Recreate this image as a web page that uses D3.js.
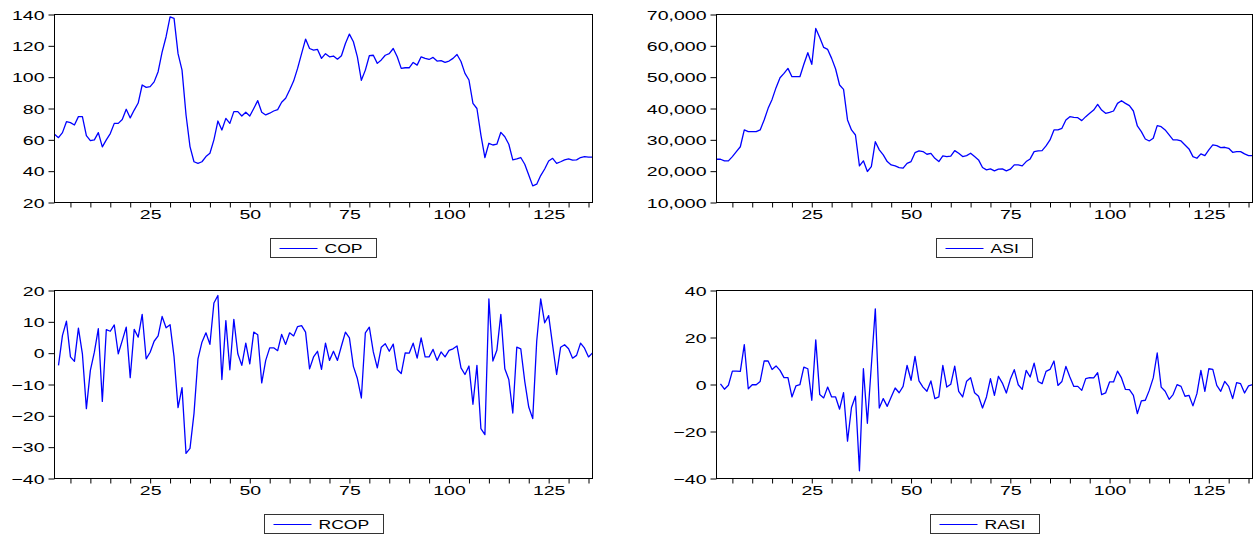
<!DOCTYPE html>
<html>
<head>
<meta charset="utf-8">
<script src="https://cdn.jsdelivr.net/npm/d3@7"></script>
<style>
body { margin: 0; background: #fff; }
svg text { font-family: "Liberation Sans", Arial, sans-serif; font-size: 13px; fill: #000; }
</style>
</head>
<body>
<svg id="chart" width="1258" height="536"></svg>
<script>
// observations 1..136
var obs = d3.range(1, 137);

var cop = [63.5,61.4,64.6,71.6,71,69.5,74.8,74.8,62.7,59.5,
  60,64.6,55.5,60,64,70.5,70.5,73,79.5,74,
  79,83.5,95,93.5,94,97,103.5,116,125.8,138.5,
  137.5,115,104.5,76,55.7,46,45,46,49.3,51.4,
  60,72,66.3,73.7,70.5,78,78,75.2,77.6,75.2,
  80,85,77.6,75.9,77,78.4,79.3,84,86.5,91.8,
  97.5,105.6,115,124.3,118.3,117.3,117.7,112,115,113,
  113.5,111.5,113.7,121.5,127.5,122.6,113,98,104.5,113.7,
  114,108.8,111,114,115,118.3,113,105.6,106,106,
  109.4,107.7,113,112,111.3,112.6,110.3,110.5,109.4,110.3,
  112,114.5,110,102.4,98.2,83.3,80,63,48.7,57.8,
  56.7,57.2,64.8,62,57.2,47.2,47.8,48.7,44.4,37.6,
  30.6,31.7,37.2,41.4,46.5,48.2,45,46,47.2,47.8,
  47,47.2,48.7,49.3,48.9,48.9];

var asi = [23800,23800,23300,23300,24650,26250,27800,33150,32600,32600,
  32600,33150,36350,40050,42900,46650,49800,51200,52800,50150,
  50150,50150,54100,57800,54100,65550,62650,59500,58850,56000,
  52600,47500,46100,36350,33150,31550,21700,23300,19900,21450,
  29400,26800,25200,23050,22000,21700,21150,20950,22500,23050,
  25900,26450,26250,25400,25700,24100,23050,24850,24650,24800,
  26560,25710,24650,24970,25710,24650,23590,21150,20400,20720,
  20090,20620,20720,20090,20620,22000,22000,21680,23060,23910,
  26250,26460,26560,28050,29960,33150,33150,33680,36340,37400,
  37190,37080,36130,37400,38460,39520,41330,39520,38460,38780,
  39200,41640,42490,41640,40900,39200,34420,32620,30280,29640,
  30490,34530,34200,33150,31560,29960,29960,29640,28370,27100,
  24650,24120,25500,24970,26780,28370,28160,27520,27630,27310,
  26030,26250,26250,25500,24970,24970];

var rcop = [null,-3.9,5.7,10.2,-1.2,-2.6,8,-0.2,-17.7,-5.5,
  0.3,7.8,-15.4,7.5,7,9,-0.2,4,8.3,-7.8,
  7.6,5.1,12.4,-1.8,0.3,3.8,5.5,11.7,8.1,9.1,
  -1.2,-17.4,-11,-32,-30.4,-19.3,-1.8,3.5,6.5,2.8,
  16,18.4,-8.4,10.4,-5.3,10.8,-0.2,-3.9,3.2,-3.4,
  6.7,5.9,-9.5,-2.3,1.7,1.7,0.8,6,2.8,6.5,
  5.5,8.5,8.8,6.7,-5,-1.2,0.6,-5.2,3.2,-2.3,
  0.6,-2.3,2.3,6.7,4.9,-4.2,-8.1,-14.3,6.5,8.3,
  0.4,-4.7,1.9,3,0.6,2.9,-5.2,-6.5,0.1,0,
  3.2,-1.6,4.9,-1.2,-1.2,1.2,-2.3,0.4,-1.2,0.9,
  1.4,2.3,-4.7,-6.8,-4.1,-16.3,-3.9,-24.1,-26,17.3,
  -2.5,0.9,12.4,-5,-8.4,-19.1,1.9,1.4,-9,-17.2,
  -20.9,3.8,17.3,9.7,12,2.5,-6.8,1.9,2.7,1.4,
  -1.6,-0.7,3.2,1.6,-1.2,0.1];

var rasi = [null,0.3,-2,-0.3,5.7,5.7,5.6,17,-1.8,-0.1,
  -0.1,1.3,10,10,6.4,7.9,6,2.9,2.9,-5.3,
  -0.6,-0.1,7.4,6.7,-6.7,19,-4.3,-5.7,-1.1,-5.3,
  -5.3,-10.5,-3.5,-24.1,-9.8,-5,-36.7,6.7,-16.5,8.1,
  32.2,-10,-6,-9.3,-5.3,-1.5,-3.5,-0.8,8.1,1.8,
  12,1.5,-1.1,-2.9,1.5,-6,-5.3,8.1,-1.1,0.1,
  7.8,-2.9,-5.3,1.4,2.9,-3.5,-5,-10,-5.3,2.5,
  -4.6,3.5,0.6,-3.6,2.2,6.3,-0.1,-2.1,6,3.2,
  9.1,1.3,0.35,5.6,6.4,10,-0.4,1.3,7.7,3.2,
  -0.8,-0.8,-2.5,2.5,2.9,2.8,5,-4.3,-3.6,1.1,
  1.1,5.7,2.8,-2.1,-2.2,-4.6,-12.4,-7,-6.7,-2.5,
  2.8,13.4,-1.1,-2.9,-6.3,-4.3,-0.05,-0.8,-5,-4.6,
  -9.1,-3.9,6,-2.9,6.7,6.4,-0.4,-2.9,1.3,-0.8,
  -6,0.8,0.35,-3.6,-0.6,-0.1];

var xTicks = d3.range(5, 136, 5);
var copTicks = [20, 40, 60, 80, 100, 120, 140];
var asiTicks = [10000, 20000, 30000, 40000, 50000, 60000, 70000];
var rcopTicks = [-40, -30, -20, -10, 0, 10, 20];
var rasiTicks = [-40, -20, 0, 20, 40];

var SX = 1.5;   // tick labels in the source are drawn wide
var LSX = 1.35; // legend labels

var svg = d3.select('#chart');

var panels = [
  {name: 'COP',  values: cop,  ticks: copTicks,  fmt: d3.format('d'), left: 54.5,  right: 592.5,  top: 14.5,  bottom: 202.5, legendY: 238.5},
  {name: 'ASI',  values: asi,  ticks: asiTicks,  fmt: d3.format(','), left: 716.5, right: 1252.5, top: 14.5,  bottom: 202.5, legendY: 238.5},
  {name: 'RCOP', values: rcop, ticks: rcopTicks, fmt: d3.format('d'), left: 54.5,  right: 592.5,  top: 290.5, bottom: 478.5, legendY: 514.5},
  {name: 'RASI', values: rasi, ticks: rasiTicks, fmt: d3.format('d'), left: 716.5, right: 1252.5, top: 290.5, bottom: 478.5, legendY: 514.5}
];

panels.forEach(drawPanel);

function drawPanel(p) {
  var g = svg.append('g');
  var x = d3.scaleLinear().domain([1, 136]).range([p.left, p.right]);
  var y = d3.scaleLinear().domain(d3.extent(p.ticks)).range([p.bottom, p.top]);

  // x axis
  var xa = g.append('g')
    .attr('transform', 'translate(0,' + p.bottom + ')')
    .call(d3.axisBottom(x).tickValues(xTicks).tickSize(5).tickSizeOuter(0)
      .tickFormat(function(d) { return d % 25 === 0 ? d : ''; }));
  xa.select('.domain').remove();
  xa.selectAll('text')
    .attr('y', null).attr('dy', null)
    .attr('transform', 'translate(0,16.5) scale(' + SX + ',1)');

  // y axis
  var ya = g.append('g')
    .attr('transform', 'translate(' + p.left + ',0)')
    .call(d3.axisLeft(y).tickValues(p.ticks).tickSize(6).tickSizeOuter(0).tickFormat(p.fmt));
  ya.select('.domain').remove();
  ya.selectAll('text')
    .attr('x', null).attr('dy', null)
    .attr('transform', 'translate(-10,4.5) scale(' + SX + ',1)');

  // series
  var line = d3.line()
    .defined(function(d, i) { return p.values[i] != null; })
    .x(function(d) { return x(d); })
    .y(function(d, i) { return y(p.values[i]); });
  g.append('path')
    .datum(obs)
    .attr('d', line)
    .attr('fill', 'none')
    .attr('stroke', '#0000ff')
    .attr('stroke-width', 1.3)
    .attr('stroke-linejoin', 'round');

  // frame
  g.append('rect')
    .attr('x', p.left).attr('y', p.top)
    .attr('width', p.right - p.left).attr('height', p.bottom - p.top)
    .attr('fill', 'none').attr('stroke', '#000').attr('stroke-width', 1);

  // legend
  var lg = g.append('g');
  var t = lg.append('text').text(p.name);
  var tw = t.node().getComputedTextLength() * LSX;
  var bw = 9 + 38 + 7 + tw + 14;
  var cx = (p.left + p.right) / 2;
  var bx = Math.round(cx - bw / 2) + 0.5;
  lg.insert('rect', 'text')
    .attr('x', bx).attr('y', p.legendY)
    .attr('width', Math.round(bw)).attr('height', 19)
    .attr('fill', '#fff').attr('stroke', '#333').attr('stroke-width', 1);
  lg.append('line')
    .attr('x1', bx + 9).attr('x2', bx + 47)
    .attr('y1', p.legendY + 10).attr('y2', p.legendY + 10)
    .attr('stroke', '#0000ff').attr('stroke-width', 1);
  t.attr('transform', 'translate(' + (bx + 54) + ',' + (p.legendY + 14.5) + ') scale(' + LSX + ',1)');
}
</script>
</body>
</html>
